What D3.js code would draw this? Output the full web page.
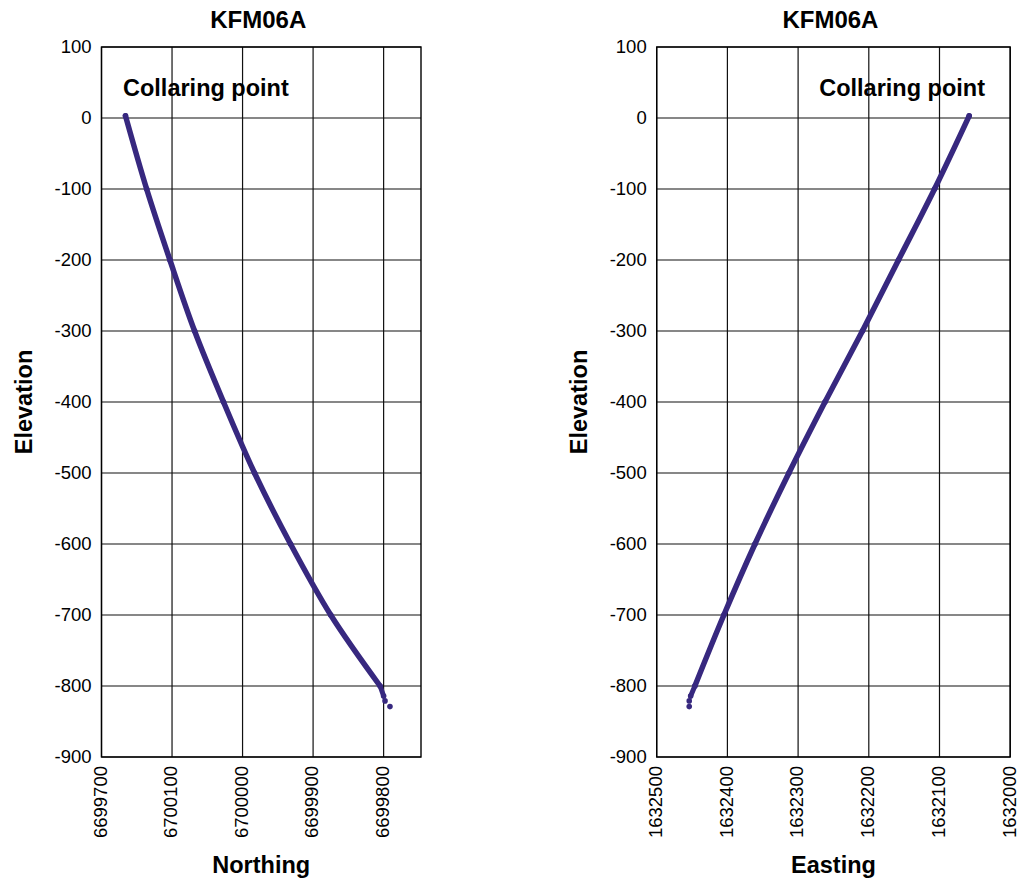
<!DOCTYPE html>
<html>
<head>
<meta charset="utf-8">
<script src="https://cdn.jsdelivr.net/npm/d3@7"></script>
<style>
  body { margin: 0; background: #fff; }
  svg { font-family: "Liberation Sans", Arial, sans-serif; }
</style>
</head>
<body>
<svg id="chart" width="1018" height="883"></svg>
<script>
// borehole KFM06A, values
const elevation = [3, -100, -200, -300, -400, -500, -600, -700, -800, -814, -821, -829];
const northing = [6700166, 6700136, 6700103, 6700068, 6700027, 6699983, 6699932, 6699875, 6699805, 6699800, 6699798, 6699791];
const easting = [1632058, 1632107, 1632158, 1632209, 1632262, 1632313, 1632361, 1632405, 1632446, 1632452, 1632454, 1632454];

const yTicks = [100, 0, -100, -200, -300, -400, -500, -600, -700, -800, -900];
const northTicks = [6700200, 6700100, 6700000, 6699900, 6699800];
const northLabels = ["6699700", "6700100", "6700000", "6699900", "6699800"];
const eastTicks = [1632500, 1632400, 1632300, 1632200, 1632100, 1632000];
const eastLabels = ["1632500", "1632400", "1632300", "1632200", "1632100", "1632000"];

const svg = d3.select("#chart");
const dotColor = "#37287f";

function drawPanel(cfg) {
  const x = d3.scaleLinear().domain(cfg.xDomain).range([cfg.left, cfg.right]);
  const y = d3.scaleLinear().domain([100, -900]).range([47, 757]);
  const g = svg.append("g");

  // grid
  g.selectAll("line.h").data(yTicks).enter().append("line")
    .attr("x1", cfg.left).attr("x2", cfg.right)
    .attr("y1", d => y(d)).attr("y2", d => y(d))
    .attr("stroke", "#111").attr("stroke-width", 1.2);
  g.selectAll("line.v").data(cfg.ticks).enter().append("line")
    .attr("x1", d => x(d)).attr("x2", d => x(d))
    .attr("y1", y(100)).attr("y2", y(-900))
    .attr("stroke", "#111").attr("stroke-width", 1.2);
  g.append("rect")
    .attr("x", cfg.left).attr("y", y(100))
    .attr("width", cfg.right - cfg.left).attr("height", y(-900) - y(100))
    .attr("fill", "none").attr("stroke", "#000").attr("stroke-width", 1.4);

  // y axis labels
  const yAxis = d3.axisLeft(y).tickValues(yTicks).tickSize(0).tickPadding(10)
    .tickFormat(d => String(d));
  const ya = g.append("g").attr("transform", `translate(${cfg.left},0)`).call(yAxis);
  ya.select(".domain").remove();
  ya.selectAll("text").attr("font-size", 18.5).attr("fill", "#000")
    .attr("font-family", "Liberation Sans, Arial, sans-serif");

  // x axis labels (rotated)
  const xAxis = d3.axisBottom(x).tickValues(cfg.ticks).tickSize(0)
    .tickFormat((d, i) => cfg.labels[i]);
  const xa = g.append("g").attr("transform", `translate(0,${y(-900)})`).call(xAxis);
  xa.select(".domain").remove();
  xa.selectAll("text")
    .attr("font-size", 18.5).attr("fill", "#000")
    .attr("font-family", "Liberation Sans, Arial, sans-serif")
    .attr("text-anchor", "end")
    .attr("transform", "rotate(-90)")
    .attr("x", -9).attr("y", 0).attr("dy", "0.26em");

  // trajectory
  const pts = cfg.xs.map((v, i) => [v, elevation[i]]);
  const line = d3.line().x(d => x(d[0])).y(d => y(d[1]))
    .curve(d3.curveCatmullRom.alpha(0.5));
  g.append("path").datum(pts.slice(0, 9))
    .attr("d", line).attr("fill", "none")
    .attr("stroke", dotColor).attr("stroke-width", 5.5)
    .attr("stroke-linecap", "round").attr("stroke-linejoin", "round");
  g.append("path").datum(pts.slice(8, 10))
    .attr("d", d3.line().x(d => x(d[0])).y(d => y(d[1])))
    .attr("fill", "none")
    .attr("stroke", dotColor).attr("stroke-width", 5)
    .attr("stroke-linecap", "round");
  g.selectAll("circle").data(pts).enter().append("circle")
    .attr("cx", d => x(d[0])).attr("cy", d => y(d[1])).attr("r", 2.8)
    .attr("fill", dotColor);

  // texts
  const mid = (cfg.left + cfg.right) / 2;
  g.append("text").attr("x", mid - 3).attr("y", 28).attr("text-anchor", "middle")
    .attr("font-size", 24).attr("font-weight", "bold").text("KFM06A");
  g.append("text").attr("x", cfg.noteX).attr("y", 96).attr("text-anchor", cfg.noteAnchor)
    .attr("font-size", 23.5).attr("font-weight", "bold").text("Collaring point");
  g.append("text").attr("x", mid).attr("y", 873).attr("text-anchor", "middle")
    .attr("font-size", 23.5).attr("font-weight", "bold").text(cfg.xTitle);
  g.append("text").attr("transform", `translate(${cfg.left - 70},402) rotate(-90)`)
    .attr("text-anchor", "middle")
    .attr("font-size", 23.5).attr("font-weight", "bold").text("Elevation");
}

drawPanel({
  left: 101.5, right: 421, xDomain: [6700200, 6699747],
  ticks: northTicks, labels: northLabels, xs: northing,
  noteX: 123, noteAnchor: "start", xTitle: "Northing"
});
drawPanel({
  left: 656.7, right: 1010.2, xDomain: [1632500, 1632000],
  ticks: eastTicks, labels: eastLabels, xs: easting,
  noteX: 985, noteAnchor: "end", xTitle: "Easting"
});
</script>
</body>
</html>
